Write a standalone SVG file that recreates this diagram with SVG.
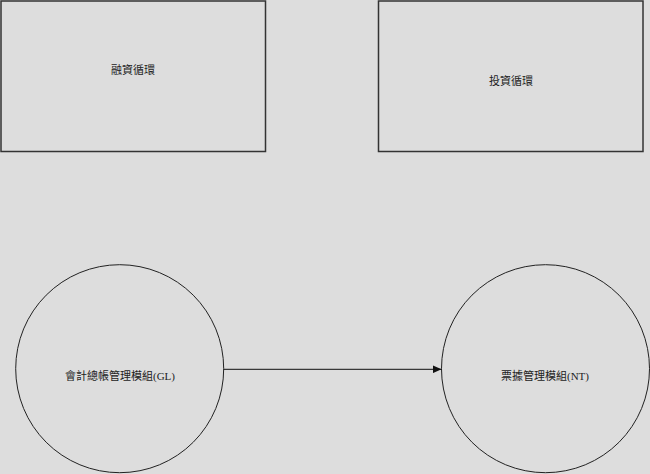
<svg xmlns="http://www.w3.org/2000/svg" width="650" height="474" viewBox="0 0 650 474">
<style>
.bg{fill:#dddddd}
.box{fill:#dddddd;stroke:#333333;stroke-width:1.5}
.circ{fill:#dddddd;stroke:#222222;stroke-width:1}
.lbl{font-family:"Liberation Serif","Noto Sans CJK TC",serif;font-size:11px;fill:#222222;text-anchor:middle;dominant-baseline:central}
.conn{stroke:#111111;stroke-width:1;fill:none}
</style>
<defs>
<marker id="arrow" markerWidth="9" markerHeight="8" refX="9" refY="4" orient="auto" markerUnits="userSpaceOnUse">
<path d="M0,0 L9,4 L0,8 Z" fill="#111111"/>
</marker>
</defs>
<rect class="bg" x="0" y="0" width="650" height="474"/>
<g id="node-financing">
<rect class="box" x="1" y="1" width="264.5" height="150.5"/>
<text class="lbl" x="133" y="70">融資循環</text>
</g>
<g id="node-investment">
<rect class="box" x="378.5" y="1" width="264.5" height="150.5"/>
<text class="lbl" x="511" y="81">投資循環</text>
</g>
<g id="node-gl">
<circle class="circ" cx="119.7" cy="368.7" r="104"/>
<text class="lbl" x="120" y="376">會計總帳管理模組(GL)</text>
</g>
<g id="node-nt">
<circle class="circ" cx="545.5" cy="368.7" r="104"/>
<text class="lbl" x="545" y="376">票據管理模組(NT)</text>
</g>
<g id="connectors">
<line class="conn" x1="223.7" y1="369.3" x2="441.5" y2="369.3" marker-end="url(#arrow)"/>
</g>
</svg>
